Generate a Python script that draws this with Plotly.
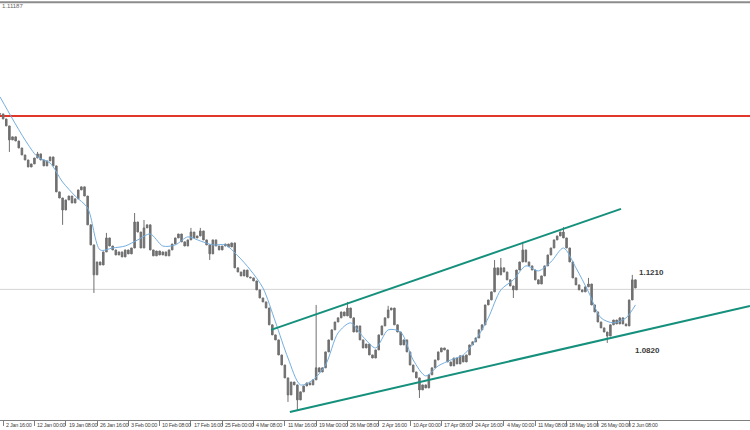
import plotly.graph_objects as go

# ---------------- data ----------------
# closing prices, one per bar (bar index 0..203)
close = [
    1.2098, 1.2070, 1.2031, 1.1953, 1.1970, 1.1947, 1.1908, 1.1869, 1.1841, 1.1802,
    1.1819, 1.1852, 1.1875, 1.1841, 1.1808, 1.1836, 1.1858, 1.1808, 1.1663, 1.1629,
    1.1562, 1.1618, 1.1640, 1.1601, 1.1624, 1.1674, 1.1691, 1.1640, 1.1479, 1.1367,
    1.1200, 1.1272, 1.1255, 1.1328, 1.1406, 1.1361, 1.1339, 1.1311, 1.1328, 1.1300,
    1.1339, 1.1317, 1.1350, 1.1495, 1.1439, 1.1350, 1.1462, 1.1479, 1.1339, 1.1306,
    1.1333, 1.1311, 1.1328, 1.1306, 1.1339, 1.1372, 1.1406, 1.1428, 1.1384, 1.1361,
    1.1395, 1.1439, 1.1406, 1.1417, 1.1445, 1.1395, 1.1367, 1.1317, 1.1395, 1.1361,
    1.1339, 1.1361, 1.1372, 1.1356, 1.1378, 1.1239, 1.1216, 1.1194, 1.1227, 1.1188,
    1.1183, 1.1166, 1.1116, 1.1071, 1.1049, 1.1015, 1.0921, 1.0865, 1.0837, 1.0753,
    1.0697, 1.0625, 1.0530, 1.0602, 1.0586, 1.0502, 1.0547, 1.0580, 1.0597, 1.0586,
    1.0614, 1.0681, 1.0658, 1.0681, 1.0770, 1.0837, 1.0893, 1.0937, 1.0960, 1.0993,
    1.0971, 1.1015, 1.0960, 1.0881, 1.0915, 1.0837, 1.0792, 1.0814, 1.0753, 1.0736,
    1.0781, 1.0865, 1.0915, 1.0960, 1.1004, 1.1015, 1.0921, 1.0881, 1.0809, 1.0837,
    1.0770, 1.0697, 1.0658, 1.0625, 1.0558, 1.0586, 1.0569, 1.0642, 1.0681, 1.0725,
    1.0770, 1.0792, 1.0781, 1.0714, 1.0692, 1.0736, 1.0703, 1.0748, 1.0714, 1.0753,
    1.0809, 1.0826, 1.0848, 1.0893, 1.0921, 1.1032, 1.1060, 1.1105, 1.1239, 1.1200,
    1.1239, 1.1216, 1.1172, 1.1138, 1.1116, 1.1227, 1.1272, 1.1339, 1.1272, 1.1250,
    1.1227, 1.1172, 1.1149, 1.1194, 1.1250, 1.1311, 1.1350, 1.1395, 1.1417, 1.1439,
    1.1406, 1.1350, 1.1272, 1.1183, 1.1144, 1.1116, 1.1105, 1.1133, 1.1149, 1.1032,
    1.0993, 1.0937, 1.0904, 1.0881, 1.0859, 1.0921, 1.0948, 1.0926, 1.0960, 1.0926,
    1.0915, 1.1060, 1.1172, 1.1127,
]
# visible wick extremes (bar index, price)
wick_index = [3, 12, 20, 30, 34, 43, 46, 61, 64, 67, 92, 95, 101, 111, 124, 134,
              158, 160, 164, 167, 180, 188, 194, 202]
wick_price = [1.1886, 1.1886, 1.1479, 1.1099, 1.1434, 1.1545, 1.1506, 1.1462, 1.1462,
              1.1283, 1.0491, 1.0446, 1.1032, 1.1049, 1.1027, 1.0513, 1.1283, 1.1294,
              1.1071, 1.1384, 1.1467, 1.1183, 1.0820, 1.1200]

# moving average (blue), sampled every 4 bars + last bar
ma_index = [0, 4, 8, 12, 16, 20, 24, 28, 32, 36, 40, 44, 48, 52, 56, 60, 64, 68, 72, 76,
            80, 84, 88, 92, 96, 100, 104, 108, 112, 116, 120, 124, 128, 132, 136, 140,
            144, 148, 152, 156, 160, 164, 168, 172, 176, 180, 184, 188, 192, 196, 200, 203]
ma_values = [1.2193, 1.2070, 1.1953, 1.1858, 1.1824, 1.1718, 1.1640, 1.1573, 1.1339, 1.1350,
             1.1361, 1.1395, 1.1428, 1.1361, 1.1367, 1.1412, 1.1389, 1.1367, 1.1367, 1.1306,
             1.1227, 1.1127, 1.0937, 1.0736, 1.0586, 1.0614, 1.0697, 1.0876, 1.0932, 1.0854,
             1.0792, 1.0893, 1.0881, 1.0725, 1.0636, 1.0692, 1.0725, 1.0753, 1.0837, 1.0960,
             1.1116, 1.1172, 1.1250, 1.1222, 1.1272, 1.1350, 1.1239, 1.1105, 1.0960, 1.0932,
             1.0960, 1.1032]

tick_index = [1, 11, 21, 31, 41, 51, 61, 71, 81, 91, 101, 111, 121, 131, 141, 151,
              161, 171, 181, 191, 201]
tick_labels = ["2 Jan 16:00", "12 Jan 00:00", "19 Jan 08:00", "26 Jan 16:00", "3 Feb 00:00",
               "10 Feb 08:00", "17 Feb 16:00", "25 Feb 00:00", "4 Mar 08:00", "11 Mar 16:00",
               "19 Mar 00:00", "26 Mar 08:00", "2 Apr 16:00", "10 Apr 00:00", "17 Apr 08:00",
               "24 Apr 16:00", "4 May 00:00", "11 May 08:00", "18 May 16:00", "26 May 00:00",
               "2 Jun 08:00"]

resistance_level = 1.2087
bid_level = 1.1119
bid_text = "1.11187"
channel_upper_x = [86.6, 198.4]
channel_upper_y = [1.0893, 1.1568]
channel_lower_x = [92.6, 239.6]
channel_lower_y = [1.0435, 1.1027]
price_labels = ["1.1210", "1.0820"]
price_label_x = [203.6, 202.2]
price_label_y = [1.1211, 1.0776]

x_range = [0, 239.6]
y_range = [1.0390, 1.2717]

# ---------------- build OHLC ----------------
n = len(close)
idx = list(range(n))
opn = [close[0]] + close[:-1]
high = [max(o, c) for o, c in zip(opn, close)]
low = [min(o, c) for o, c in zip(opn, close)]
for k, p in zip(wick_index, wick_price):
    high[k] = max(high[k], p)
    low[k] = min(low[k], p)

CANDLE = "#707070"
fig = go.Figure()
fig.add_trace(go.Candlestick(
    x=idx, open=opn, high=high, low=low, close=close,
    increasing=dict(line=dict(color=CANDLE, width=1), fillcolor=CANDLE),
    decreasing=dict(line=dict(color=CANDLE, width=1), fillcolor=CANDLE),
    whiskerwidth=0, showlegend=False, hoverinfo="skip",
))
fig.add_trace(go.Scatter(
    x=ma_index, y=ma_values, mode="lines",
    line=dict(color="#74aee0", width=1, shape="spline", smoothing=0.8),
    showlegend=False, hoverinfo="skip",
))
fig.add_trace(go.Scatter(
    x=channel_upper_x, y=channel_upper_y, mode="lines",
    line=dict(color="#15907c", width=2), showlegend=False, hoverinfo="skip",
))
fig.add_trace(go.Scatter(
    x=channel_lower_x, y=channel_lower_y, mode="lines",
    line=dict(color="#15907c", width=2), showlegend=False, hoverinfo="skip",
))

shapes = [
    dict(type="line", xref="paper", yref="y", x0=0, x1=1, y0=resistance_level, y1=resistance_level,
         line=dict(color="#e0362c", width=2), layer="below"),
    dict(type="line", xref="paper", yref="y", x0=0, x1=1, y0=bid_level, y1=bid_level,
         line=dict(color="#d4d4d4", width=1), layer="below"),
    dict(type="line", xref="paper", yref="paper", x0=0, x1=1, y0=1.002, y1=1.002,
         line=dict(color="#8c8c8c", width=2)),
]

annotations = []
for t, lab in zip(tick_index, tick_labels):
    annotations.append(dict(x=t + 0.25, y=-0.012, xref="x", yref="paper",
                            text="<span style='letter-spacing:-0.3px'>" + lab + "</span>",
                            showarrow=False, xanchor="left", yanchor="middle",
                            font=dict(family="Liberation Sans", size=5.5, color="#444444")))
for lab, lx, ly in zip(price_labels, price_label_x, price_label_y):
    annotations.append(dict(x=lx, y=ly, xref="x", yref="y", text="<b>" + lab + "</b>",
                            showarrow=False, xanchor="left", yanchor="middle",
                            font=dict(family="Liberation Sans", size=8, color="#3a3a3a")))
annotations.append(dict(x=0, y=0.992, xref="paper", yref="paper", text=bid_text,
                        showarrow=False, xanchor="left", yanchor="middle",
                        font=dict(family="Liberation Sans", size=6, color="#666666")))

fig.update_layout(
    width=750, height=430,
    margin=dict(l=0, r=0, t=3, b=10),
    paper_bgcolor="white", plot_bgcolor="white",
    shapes=shapes, annotations=annotations,
    xaxis=dict(range=x_range, showgrid=False, zeroline=False, showline=True,
               linecolor="#808080", linewidth=1, ticks="outside", ticklen=5,
               tickcolor="#808080", tickvals=tick_index, showticklabels=False,
               rangeslider=dict(visible=False), fixedrange=True),
    yaxis=dict(range=y_range, visible=False, showgrid=False, zeroline=False, fixedrange=True),
)

fig.write_html(
    "out.html",
    config={"displayModeBar": False},
    post_script="document.body.style.margin='0';document.body.style.overflow='hidden';",
)
